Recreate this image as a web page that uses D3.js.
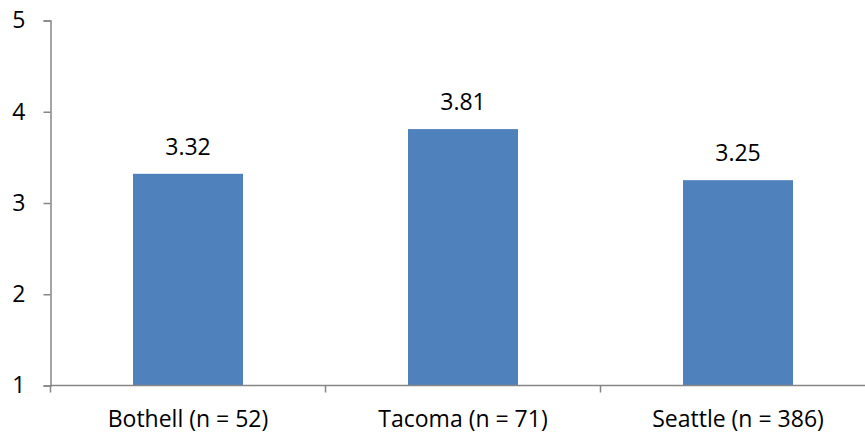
<!DOCTYPE html>
<html><head><meta charset="utf-8">
<script src="https://d3js.org/d3.v7.min.js"></script>
<style>body{margin:0;background:#fff}svg{display:block}</style>
</head><body>
<svg id="c" width="865" height="434"></svg>
<script>
const categories = ["Bothell (n = 52)", "Tacoma (n = 71)", "Seattle (n = 386)"];
const values = [3.32, 3.81, 3.25];
const yTicks = [1, 2, 3, 4, 5];

(function(){
const svg = d3.select("#c");
const font = "'Open Sans', sans-serif";
const fs = 23;
const mLeft = 50.5, mRight = 875.5, mTop = 20.5, mBottom = 385.5;
const x = d3.scaleBand().domain(categories).range([mLeft, mRight]).paddingInner(0.6).paddingOuter(0.3);
const xb = d3.scaleBand().domain(categories).range([mLeft, mRight]);
const y = d3.scaleLinear().domain([1, 5]).range([mBottom, mTop]);
const axisColor = "#868686";

svg.selectAll("rect.bar").data(values).join("rect")
  .attr("class","bar")
  .attr("x", (d,i) => x(categories[i]))
  .attr("width", x.bandwidth())
  .attr("y", d => y(d))
  .attr("height", d => y(1) - y(d))
  .attr("fill", "#4F81BD");

const ya = svg.append("g").attr("transform", `translate(${mLeft},0)`)
  .call(d3.axisLeft(y).tickValues(yTicks).tickSize(7).tickFormat(d3.format("d")));
ya.select(".domain").attr("stroke", axisColor).attr("stroke-width", 1.5);
ya.selectAll(".tick line").attr("stroke", axisColor).attr("stroke-width", 1.5);
ya.selectAll(".tick text").attr("font-family", font).attr("font-size", fs).attr("fill", "#000").attr("x", -25);

const xa = svg.append("g").attr("transform", `translate(0,${mBottom})`);
xa.append("line").attr("x1", mLeft).attr("x2", mRight).attr("stroke", axisColor).attr("stroke-width", 1.5);
const bounds = categories.map(c => xb(c)).concat([mRight]);
xa.selectAll("line.tk").data(bounds).join("line").attr("class","tk")
  .attr("x1", d => d).attr("x2", d => d).attr("y1", 0).attr("y2", 7)
  .attr("stroke", axisColor).attr("stroke-width", 1.5);
xa.selectAll("text").data(categories).join("text")
  .attr("x", d => xb(d) + xb.bandwidth()/2)
  .attr("y", 41)
  .attr("text-anchor", "middle")
  .attr("font-family", font).attr("font-size", fs).attr("fill", "#000")
  .text(d => d);

svg.selectAll("text.val").data(values).join("text").attr("class","val")
  .attr("x", (d,i) => x(categories[i]) + x.bandwidth()/2)
  .attr("y", d => y(d) - 19)
  .attr("text-anchor", "middle")
  .attr("font-family", font).attr("font-size", fs).attr("fill", "#000")
  .text(d => d.toFixed(2));
})();
</script>
</body></html>
